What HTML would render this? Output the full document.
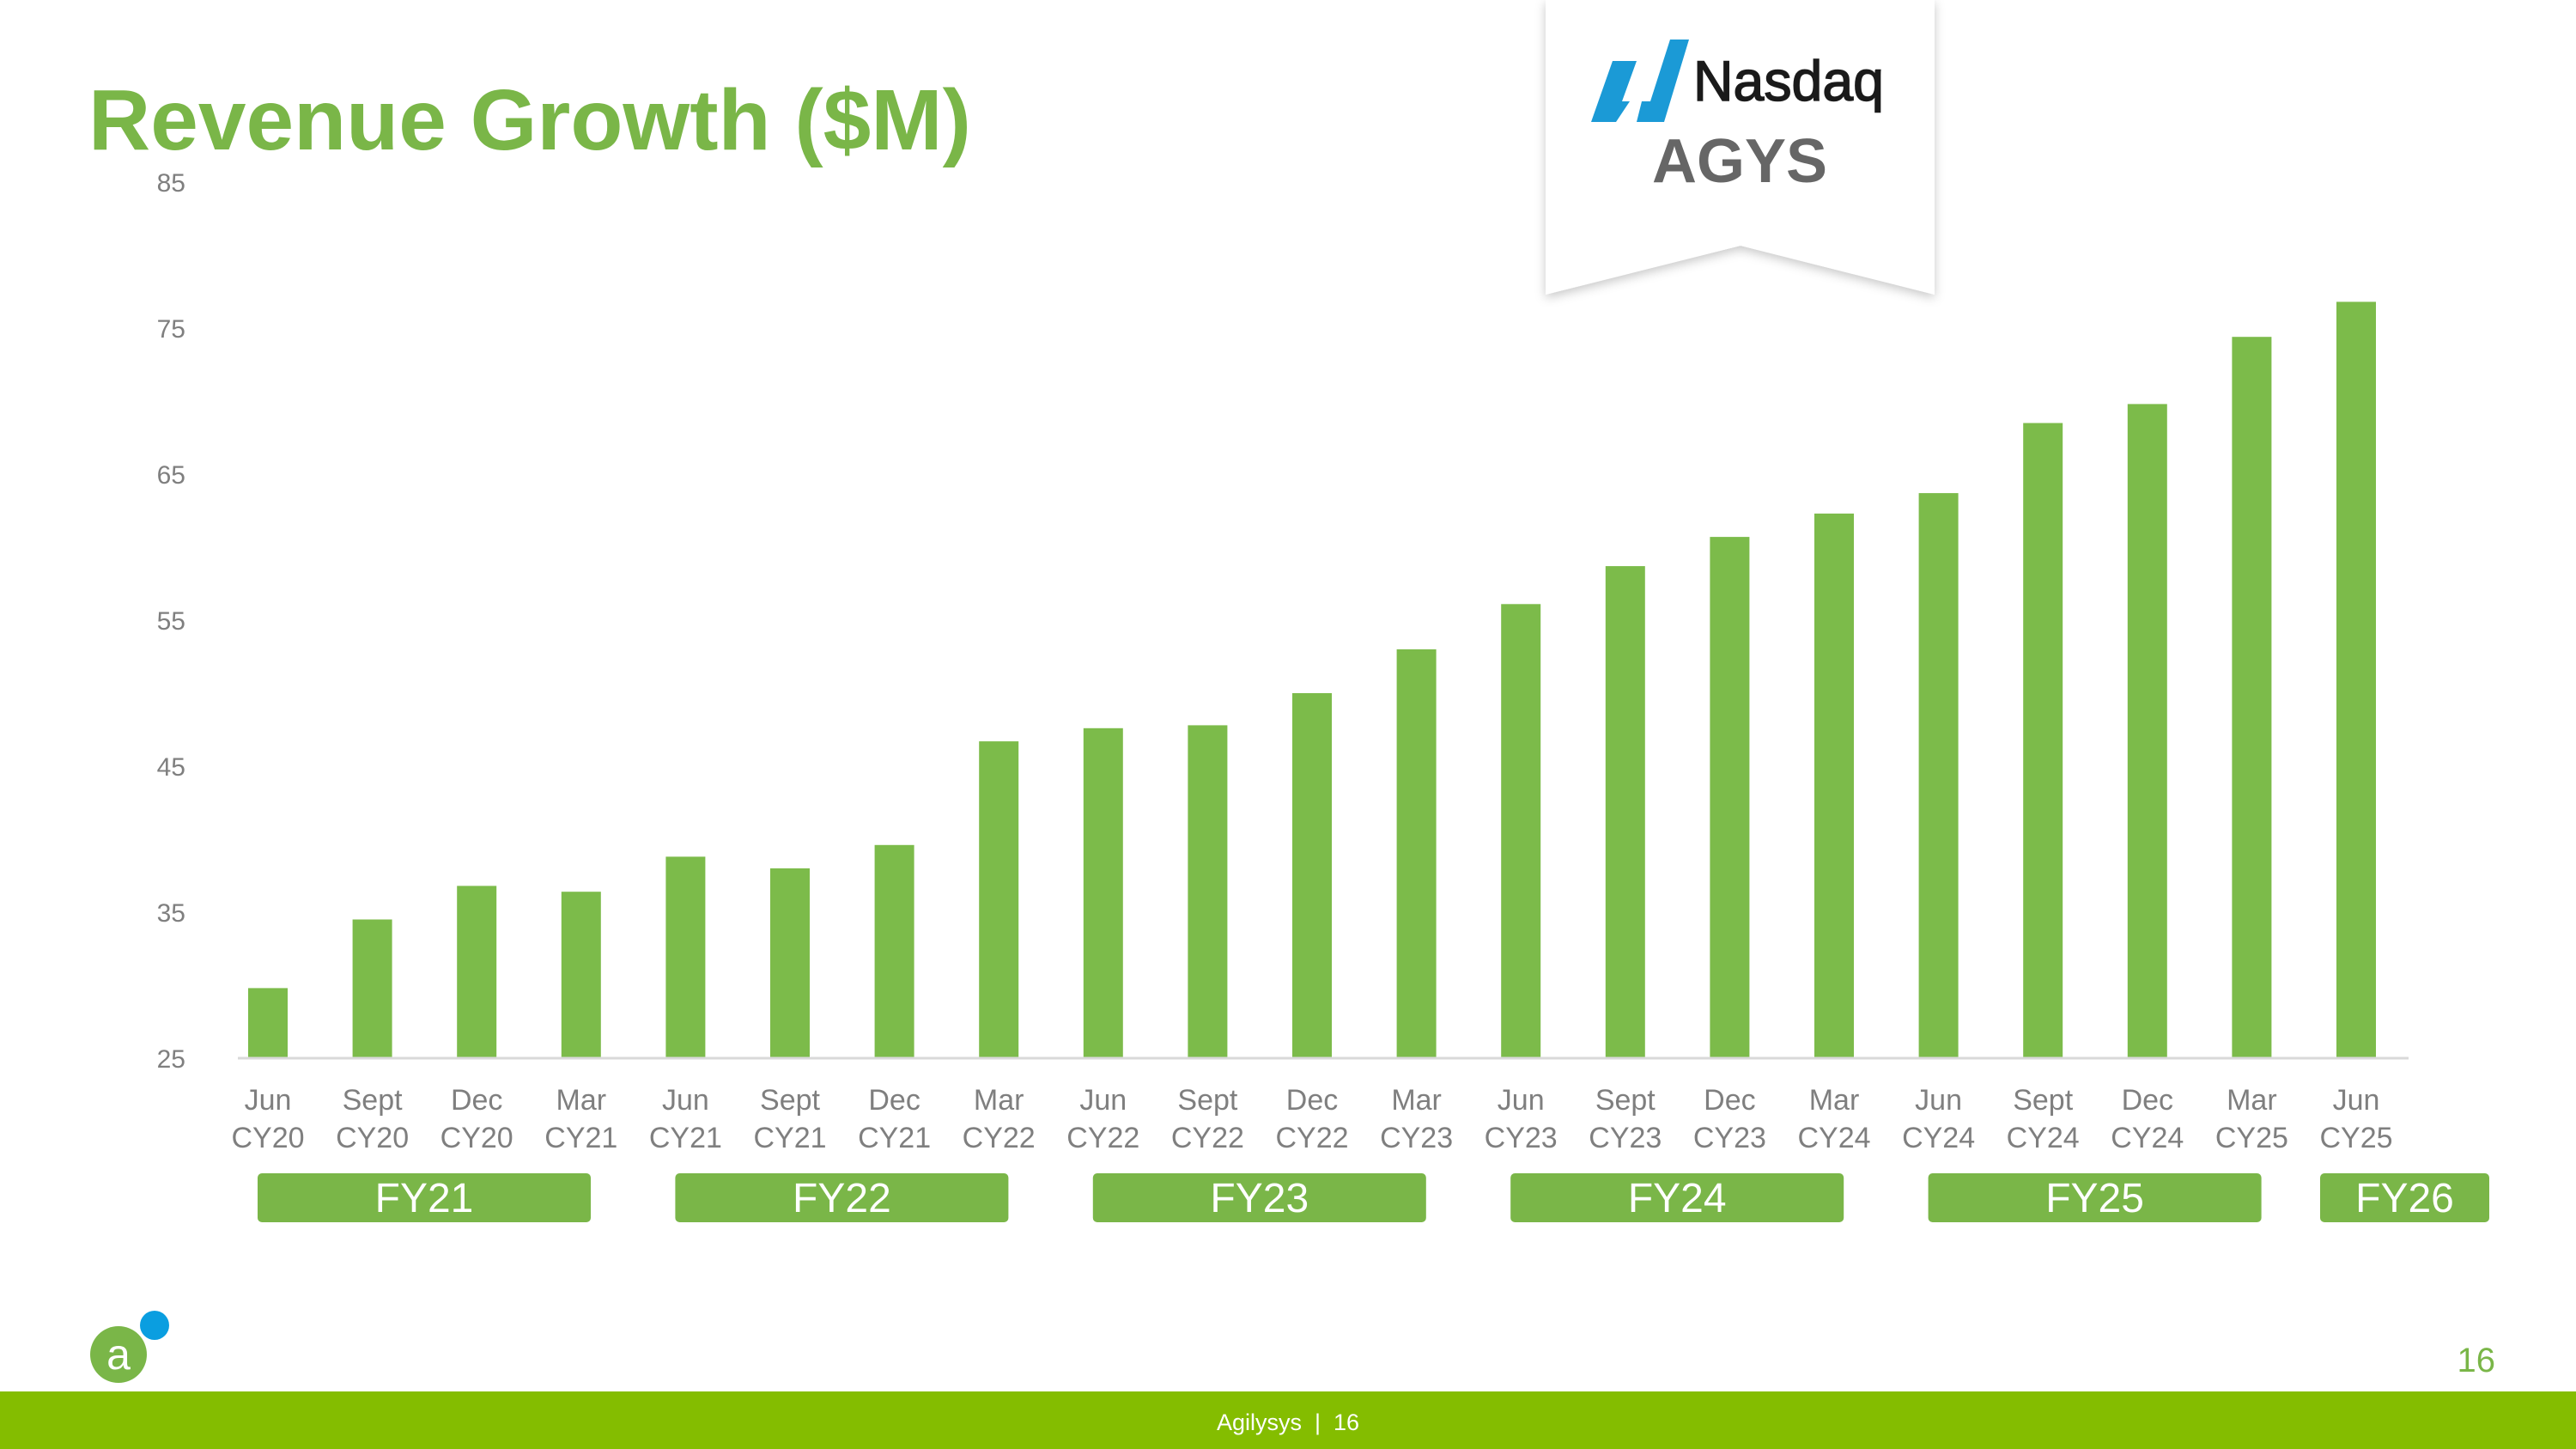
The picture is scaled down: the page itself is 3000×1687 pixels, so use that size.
<!DOCTYPE html>
<html><head><meta charset="utf-8"><style>
html,body{margin:0;padding:0;background:#fff}
body{width:3000px;height:1687px;position:relative;overflow:hidden;font-family:"Liberation Sans",sans-serif}
</style></head><body>
<svg width="3000" height="1687" viewBox="0 0 3000 1687" id="chart" style="position:absolute;left:0;top:0">
<defs>
<filter id="sh" x="-10%" y="-10%" width="120%" height="130%"><feDropShadow dx="0" dy="4" stdDeviation="6" flood-color="#000" flood-opacity="0.22"/></filter>
</defs>
<text x="103" y="174" font-size="100" font-weight="bold" fill="#7ab648">Revenue Growth ($M)</text>
<g>
<polygon points="1800,0 2253,0 2253,343 2027,286 1800,343" fill="#fff" filter="url(#sh)"/>
<polygon points="1853,142 1878,71 1906,71 1889,118 1922,118 1945,46 1967,46 1938,142 1906,142 1912,118 1898,118 1882,142" fill="#1b9ad6"/>
<text x="1972" y="117" font-size="66" font-weight="normal" fill="#1a1a1a" textLength="222" lengthAdjust="spacingAndGlyphs" stroke="#1a1a1a" stroke-width="1.5">Nasdaq</text>
<text x="2026" y="212" font-size="72" font-weight="bold" fill="#666" text-anchor="middle">AGYS</text>
</g>
<g id="yaxis"></g><g id="bars"></g><g id="xlabels"></g><g id="fy"></g>
<line x1="277" y1="1232" x2="2805" y2="1232" stroke="#d9d9d9" stroke-width="3"/>
<g>
<circle cx="138" cy="1577" r="33" fill="#7ab648"/>
<text x="138" y="1594" font-size="50" fill="#fff" text-anchor="middle">a</text>
<circle cx="180" cy="1543" r="17" fill="#0a9ee0"/>
</g>
<text x="2906" y="1597" font-size="40" fill="#7ab648" text-anchor="end">16</text>
<rect x="0" y="1620" width="3000" height="67" fill="#84bd00"/>
<text x="1500" y="1665" font-size="27" fill="#fff" text-anchor="middle" style="white-space:pre" xml:space="preserve">Agilysys  |  16</text>
</svg>
<script>
const categories1 = ["Jun","Sept","Dec","Mar","Jun","Sept","Dec","Mar","Jun","Sept","Dec","Mar","Jun","Sept","Dec","Mar","Jun","Sept","Dec","Mar","Jun"];
const categories2 = ["CY20","CY20","CY20","CY21","CY21","CY21","CY21","CY22","CY22","CY22","CY22","CY23","CY23","CY23","CY23","CY24","CY24","CY24","CY24","CY25","CY25"];
const revenue = [29.8,34.5,36.8,36.4,38.8,38.0,39.6,46.7,47.6,47.8,50.0,53.0,56.1,58.7,60.7,62.3,63.7,68.5,69.8,74.4,76.8];
const yTicks = [25,35,45,55,65,75,85];
const fyLabels = ["FY21","FY22","FY23","FY24","FY25","FY26"];
const fyStart = [0,4,8,12,16,20];
const fyEnd = [3,7,11,15,19,20];
const NS="http://www.w3.org/2000/svg";
const y = v => 1232 - (v-25)*(1232-212)/60;
const x = i => 312 + i*121.6;
function mk(tag,attrs,parent){const e=document.createElementNS(NS,tag);for(const k in attrs)e.setAttribute(k,attrs[k]);parent.appendChild(e);return e;}
const gy=document.getElementById('yaxis'),gb=document.getElementById('bars'),gx=document.getElementById('xlabels'),gf=document.getElementById('fy');
yTicks.forEach(t=>{const e=mk('text',{x:216,y:y(t)+11,'font-size':30,fill:'#7f7f7f','text-anchor':'end'},gy);e.textContent=t;

});
revenue.forEach((v,i)=>{const r=mk('rect',{x:x(i)-23,y:y(v),width:46,height:1232-y(v),fill:'#7cbb4a'},gb);


const a=mk('text',{x:x(i),y:1292,'font-size':34,fill:'#7f7f7f','text-anchor':'middle'},gx);a.textContent=categories1[i];


const b=mk('text',{x:x(i),y:1336,'font-size':34,fill:'#7f7f7f','text-anchor':'middle'},gx);b.textContent=categories2[i];

});
fyLabels.forEach((f,k)=>{const single=fyStart[k]===fyEnd[k];const x0=single?x(fyStart[k])-42:x(fyStart[k])-12,x1=single?2899:x0+388;
const r=mk('rect',{x:x0,y:1366,width:x1-x0,height:57,rx:5,fill:'#7ab648'},gf);


const t=mk('text',{x:(x0+x1)/2,y:1411,'font-size':48,fill:'#fff','text-anchor':'middle'},gf);t.textContent=f;

});
</script>
</body></html>
